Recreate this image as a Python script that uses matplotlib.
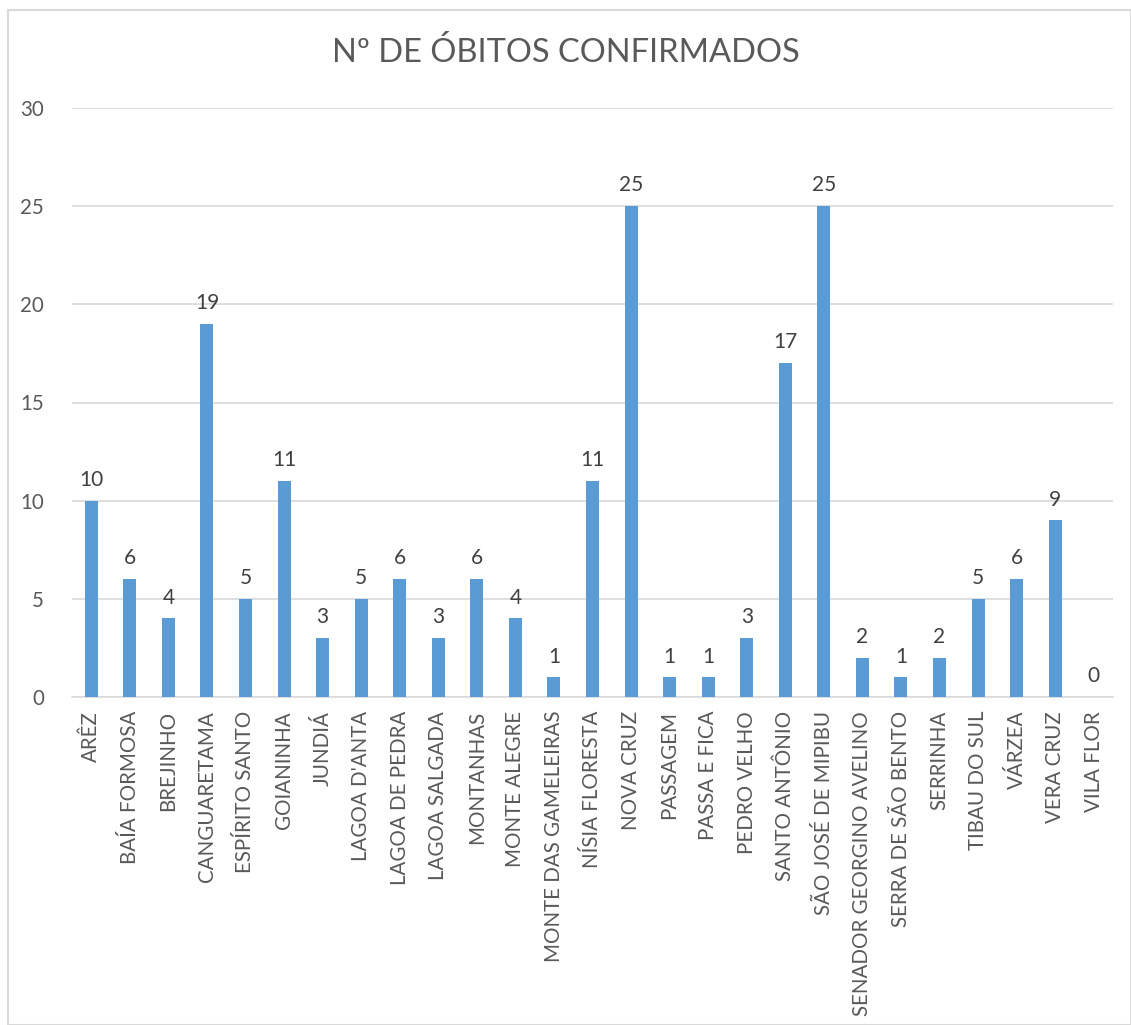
import matplotlib
matplotlib.use("Agg")
import matplotlib.pyplot as plt
from matplotlib.patches import Rectangle

# municipalities and confirmed deaths
municipios = ["ARÊZ", "BAÍA FORMOSA", "BREJINHO", "CANGUARETAMA", "ESPÍRITO SANTO",
              "GOIANINHA", "JUNDIÁ", "LAGOA D'ANTA", "LAGOA DE PEDRA", "LAGOA SALGADA",
              "MONTANHAS", "MONTE ALEGRE", "MONTE DAS GAMELEIRAS", "NÍSIA FLORESTA",
              "NOVA CRUZ", "PASSAGEM", "PASSA E FICA", "PEDRO VELHO", "SANTO ANTÔNIO",
              "SÃO JOSÉ DE MIPIBU", "SENADOR GEORGINO AVELINO", "SERRA DE SÃO BENTO",
              "SERRINHA", "TIBAU DO SUL", "VÁRZEA", "VERA CRUZ", "VILA FLOR"]
obitos = [10, 6, 4, 19, 5, 11, 3, 5, 6, 3, 6, 4, 1, 11, 25, 1, 1, 3, 17, 25,
          2, 1, 2, 5, 6, 9, 0]
yticks = [0, 5, 10, 15, 20, 25, 30]

plt.rcParams['font.family'] = ['Lato', 'DejaVu Sans']
txt = '#595959'
grid = '#D9D9D9'

fig = plt.figure(figsize=(11.31, 10.25), dpi=100)
fig.patches.append(Rectangle((8/1131, 0), 1 - 8/1131, 1 - 10/1025, transform=fig.transFigure,
                             fill=False, edgecolor=grid, linewidth=1.5))
ax = fig.add_axes([72/1131, 1 - 697/1025, 1041/1131, 589/1025])

x = range(len(municipios))
bars = ax.bar(x, obitos, width=0.34, color='#5B9BD5', zorder=3)
for xi, v in zip(x, obitos):
    ax.text(xi, v + 0.55, str(v), ha='center', va='bottom', fontsize=15, color='#404040')

ax.set_xlim(-0.5, len(municipios) - 0.5)
ax.set_ylim(0, 30)
ax.set_yticks(yticks)
ax.yaxis.grid(True, color=grid, linewidth=1.2, zorder=0)
ax.set_xticks(list(x))
ax.set_xticklabels(municipios, rotation=90, fontsize=14.8, color=txt)
ax.tick_params(axis='y', labelsize=14.8, labelcolor=txt, length=0, pad=20)
ax.tick_params(axis='x', length=0, pad=10)
for s in ['top', 'right', 'left']:
    ax.spines[s].set_visible(False)
ax.spines['bottom'].set_color(grid)
ax.spines['bottom'].set_linewidth(1.2)

fig.text(0.5, 1 - 52/1025, "Nº DE ÓBITOS CONFIRMADOS", ha='center', va='center',
         fontsize=23.5, color=txt)

fig.savefig("out.png", dpi=100)
